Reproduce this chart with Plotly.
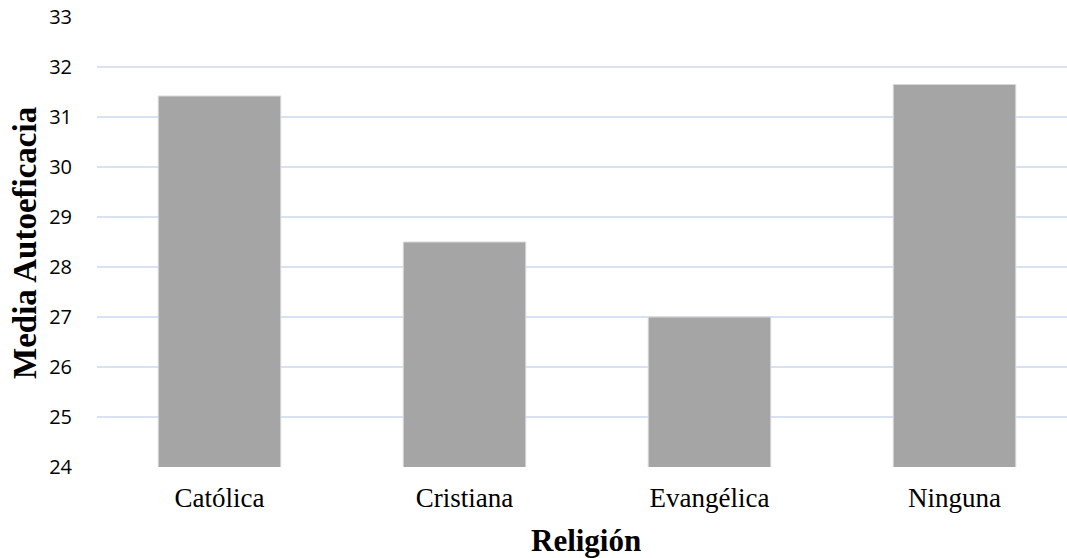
import plotly.graph_objects as go

categories = ["Católica", "Cristiana", "Evangélica", "Ninguna"]
values = [31.42, 28.5, 27.0, 31.65]
y_ticks = [24, 25, 26, 27, 28, 29, 30, 31, 32, 33]

PLOT_L, PLOT_T, PLOT_B = 97, 17, 467
W, H = 1067, 558
plot_w = W - PLOT_L
plot_h = PLOT_B - PLOT_T

fig = go.Figure()
fig.add_trace(go.Bar(
    x=categories, y=values,
    marker=dict(color="#A5A5A5", line=dict(color="#D9D9D9", width=1)),
    width=0.5,
    hoverinfo="skip",
))

fig.update_layout(
    width=W, height=H,
    margin=dict(l=PLOT_L, r=0, t=PLOT_T, b=H - PLOT_B),
    plot_bgcolor="white", paper_bgcolor="white",
    showlegend=False,
    xaxis=dict(
        range=[-0.5, -0.5 + plot_w / 245],
        showgrid=False, zeroline=False, showline=False,
        ticks="", ticklabelstandoff=12,
        tickfont=dict(family="Liberation Serif", size=27, color="#000000"),
    ),
    yaxis=dict(
        range=[24, 33], tickvals=y_ticks,
        showgrid=True, gridcolor="#D9E2F3", gridwidth=1.5,
        zeroline=False, showline=False, ticks="",
        ticklabelstandoff=24,
        tickfont=dict(family="Open Sans", size=20, color="#000000"),
    ),
    annotations=[
        dict(text="<b>Religión</b>", xref="paper", yref="paper",
             x=(586 - PLOT_L) / plot_w, y=(PLOT_B - 540) / plot_h,
             showarrow=False, font=dict(family="Liberation Serif", size=31, color="#000000"),
             xanchor="center", yanchor="middle"),
        dict(text="<b>Media Autoeficacia</b>", xref="paper", yref="paper",
             x=(25 - PLOT_L) / plot_w, y=(PLOT_B - 243) / plot_h,
             showarrow=False, textangle=-90,
             font=dict(family="Liberation Serif", size=33, color="#000000"),
             xanchor="center", yanchor="middle"),
    ],
)

fig.write_html("out.html")
